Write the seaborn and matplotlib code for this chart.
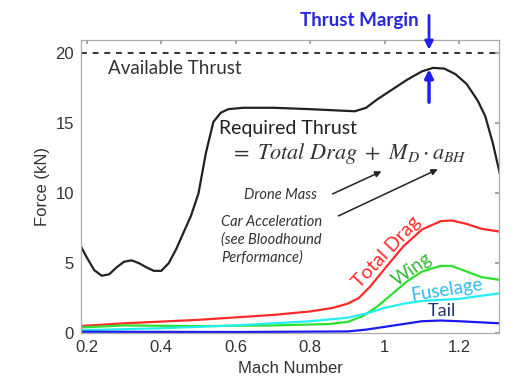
import matplotlib
matplotlib.use("Agg")
import matplotlib.pyplot as plt
import seaborn as sns
import numpy as np

# ---- data ----
mach_req = [0.18, 0.20, 0.22, 0.24, 0.26, 0.28, 0.30, 0.32, 0.34, 0.36, 0.38, 0.40,
            0.42, 0.44, 0.46, 0.48, 0.50, 0.52, 0.54, 0.56, 0.58, 0.62, 0.70, 0.80,
            0.88, 0.92, 0.95, 0.98, 1.02, 1.06, 1.10, 1.13, 1.16, 1.19, 1.22, 1.25,
            1.27, 1.29, 1.31]
required_thrust = [6.4, 5.4, 4.5, 4.1, 4.2, 4.7, 5.1, 5.2, 5.0, 4.7, 4.45, 4.45,
                   5.0, 6.0, 7.2, 8.4, 10.0, 12.9, 15.1, 15.75, 16.0, 16.1, 16.1, 16.0,
                   15.9, 15.85, 16.1, 16.7, 17.4, 18.1, 18.7, 18.95, 18.9, 18.5, 17.8, 16.6,
                   15.5, 13.6, 11.3]

mach_drag = [0.18, 0.30, 0.50, 0.70, 0.80, 0.86, 0.90, 0.93, 0.96, 1.00, 1.05, 1.10,
             1.15, 1.18, 1.22, 1.26, 1.31]
total_drag = [0.5, 0.7, 0.95, 1.3, 1.55, 1.8, 2.1, 2.5, 3.3, 4.6, 6.2, 7.4,
              8.0, 8.05, 7.8, 7.45, 7.25]

mach_wing = [0.18, 0.30, 0.50, 0.70, 0.85, 0.90, 0.94, 0.98, 1.02, 1.06, 1.10, 1.15,
             1.18, 1.22, 1.26, 1.31]
wing = [0.4, 0.55, 0.5, 0.55, 0.65, 0.8, 1.2, 1.9, 2.8, 3.7, 4.4, 4.8,
        4.8, 4.4, 4.0, 3.8]

mach_fus = [0.18, 0.40, 0.60, 0.80, 0.90, 0.95, 1.00, 1.05, 1.10, 1.20, 1.31]
fuselage = [0.2, 0.35, 0.55, 0.85, 1.1, 1.4, 1.8, 2.1, 2.3, 2.45, 2.85]

mach_tail = [0.18, 0.60, 0.90, 0.95, 1.00, 1.05, 1.10, 1.15, 1.20, 1.31]
tail = [0.1, 0.08, 0.12, 0.25, 0.45, 0.65, 0.85, 0.9, 0.85, 0.7]

available_thrust = 20
x_ticks = [0.2, 0.4, 0.6, 0.8, 1.0, 1.2]
x_tick_labels = ["0.2", "0.4", "0.6", "0.8", "1", "1.2"]
y_ticks = [0, 5, 10, 15, 20]

# ---- style ----
sns.set_theme(style="white")
plt.rcParams['font.family'] = ['Liberation Sans', 'DejaVu Sans']
plt.rcParams['mathtext.fontset'] = 'stix'

fig = plt.figure(figsize=(5.15, 3.91), dpi=100)
ax = fig.add_axes([0.157, 0.148, 0.812, 0.750])

sns.lineplot(x=mach_req, y=required_thrust, color="#222222", lw=1.6, ax=ax, sort=False, estimator=None)
sns.lineplot(x=mach_drag, y=total_drag, color="#ff2a2a", lw=1.6, ax=ax, sort=False, estimator=None)
sns.lineplot(x=mach_wing, y=wing, color="#2ee02e", lw=1.6, ax=ax, sort=False, estimator=None)
sns.lineplot(x=mach_fus, y=fuselage, color="#22eef2", lw=1.6, ax=ax, sort=False, estimator=None)
sns.lineplot(x=mach_tail, y=tail, color="#1a1aee", lw=1.6, ax=ax, sort=False, estimator=None)
ax.axhline(available_thrust, color="#333333", lw=1.4, dashes=(3, 3))

ax.set_xlim(0.184, 1.307)
ax.set_ylim(0, 20.95)
ax.set_xticks(x_ticks)
ax.set_xticklabels(x_tick_labels)
ax.set_yticks(y_ticks)
ax.tick_params(direction="in", length=3, top=True, right=True, labelsize=12,
               labelcolor="#333333", color="#999999", pad=5)
for s in ax.spines.values():
    s.set_color("#aaaaaa")
    s.set_linewidth(0.9)
ax.set_xlabel("Mach Number", fontsize=12, color="#333333", labelpad=4)
ax.set_ylabel("Force (kN)", fontsize=12, color="#333333", labelpad=4)

ann = dict(family=['Lato', 'DejaVu Sans'])
ax.text(0.256, 18.9, "Available Thrust", fontsize=13.5, color="#333333", va="center", ha="left", **ann)
ax.text(0.554, 14.6, "Required Thrust", fontsize=14, color="#222222", va="center", ha="left", **ann)
ax.text(0.584, 12.85, r"$=\ Total\ Drag\ +\ M_D \cdot a_{BH}$", fontsize=16, color="#333333",
        va="center", ha="left")
ax.text(0.622, 9.9, "Drone Mass", fontsize=10.5, style="italic", color="#333333",
        va="center", ha="left", **ann)
ax.text(0.56, 6.65, "Car Acceleration\n(see Bloodhound\nPerformance)", fontsize=10.5,
        style="italic", color="#333333", va="center", ha="left", linespacing=1.3, **ann)
ax.annotate("", xy=(0.998, 11.64), xytext=(0.853, 9.86),
            arrowprops=dict(arrowstyle="-|>", color="#222222", lw=1.1, mutation_scale=9))
ax.annotate("", xy=(1.149, 11.79), xytext=(0.869, 8.29),
            arrowprops=dict(arrowstyle="-|>", color="#222222", lw=1.1, mutation_scale=9))

ax.text(1.006, 5.8, "Total Drag", fontsize=14, color="#ff2a2a", rotation=47,
        ha="center", va="center", rotation_mode="anchor", **ann)
ax.text(1.073, 4.55, "Wing", fontsize=13.5, color="#33bb33", rotation=35,
        ha="center", va="center", rotation_mode="anchor", **ann)
ax.text(1.168, 3.1, "Fuselage", fontsize=13.5, color="#33bbee", rotation=9,
        ha="center", va="center", rotation_mode="anchor", **ann)
ax.text(1.154, 1.6, "Tail", fontsize=13, color="#223377", ha="center", va="center", **ann)

ax.text(1.09, 22.3, "Thrust Margin", fontsize=13.5, color="#2626dd", fontweight="bold",
        ha="right", va="center", clip_on=False, **ann)
ax.annotate("", xy=(1.119, 20.05), xytext=(1.119, 22.9), annotation_clip=False,
            arrowprops=dict(arrowstyle="-|>", color="#2020ee", lw=2, mutation_scale=12))
ax.annotate("", xy=(1.119, 19.05), xytext=(1.119, 16.3), annotation_clip=False,
            arrowprops=dict(arrowstyle="-|>", color="#2020ee", lw=2.5, mutation_scale=12))

fig.savefig("out.png", dpi=100)
